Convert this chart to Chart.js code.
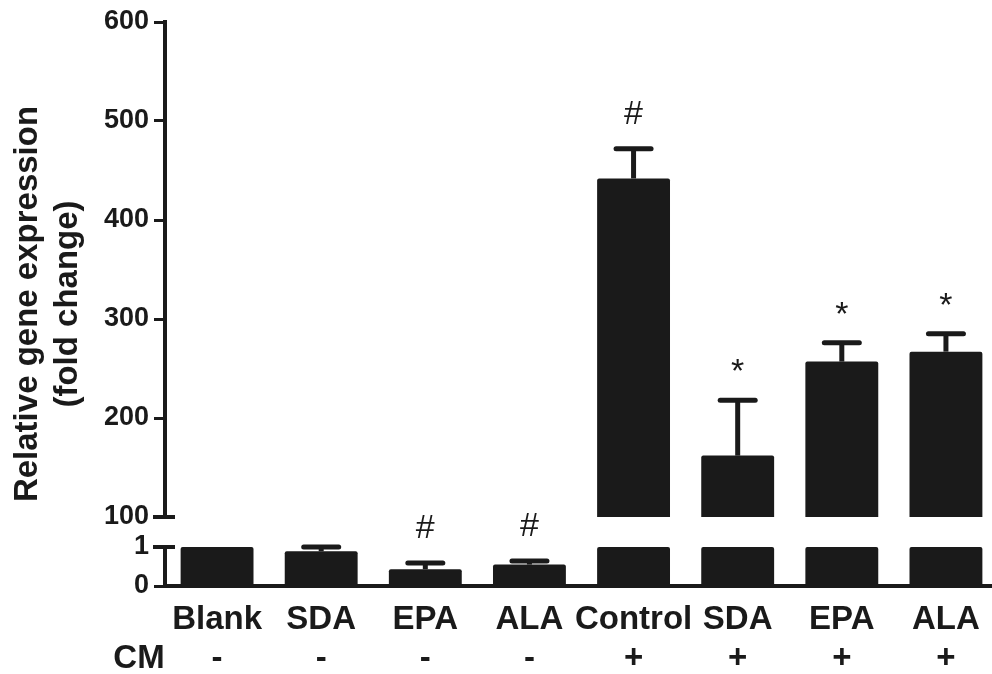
<!DOCTYPE html>
<html>
<head>
<meta charset="utf-8">
<script src="https://cdn.jsdelivr.net/npm/chart.js@4/dist/chart.umd.min.js"></script>
<style>
html, body { margin: 0; padding: 0; background: #fff; }
#wrap { width: 992px; height: 674px; position: relative; }
</style>
</head>
<body>
<div id="wrap"><canvas id="chart"></canvas></div>
<script>
// values (fold change, mean and SEM)
const groups = ['Blank', 'SDA', 'EPA', 'ALA', 'Control', 'SDA', 'EPA', 'ALA'];
const cmMarks = ['-', '-', '-', '-', '+', '+', '+', '+'];
const foldChange = [1, 0.89, 0.43, 0.55, 442, 162, 257, 267];
const sem = [0, 0.11, 0.16, 0.09, 30, 56, 19, 18];
const signif = ['', '', '#', '#', '#', '*', '*', '*'];
const upperTicks = [100, 200, 300, 400, 500, 600];
const lowerTicks = [0, 1];

const ink = '#1a1a1a';
const fontFam = "'Liberation Sans', Arial, Helvetica, sans-serif";
const breakLow = lowerTicks[lowerTicks.length - 1];
const breakHigh = upperTicks[0];

function fixWidth(scale) { scale.width = 165; }

const decor = {
    id: 'decor',
    afterLayout(chart) {
        // the x axis in the figure runs a little past the right edge
        const x = chart.scales.x;
        x.right += 6;
        x.width += 6;
        x.configure();
    },
    afterDatasetsDraw(chart) {
        const ctx = chart.ctx;
        const top = chart.scales.yTop;
        const bot = chart.scales.yBot;
        const meta = chart.getDatasetMeta(1);
        ctx.save();
        ctx.strokeStyle = ink;
        ctx.fillStyle = ink;
        ctx.lineWidth = 5;
        foldChange.forEach(function (v, i) {
            const s = v > breakLow ? top : bot;
            const x = meta.data[i].x;
            const y0 = s.getPixelForValue(v);
            const y1 = s.getPixelForValue(v + sem[i]);
            if (sem[i] > 0) {
                ctx.lineCap = 'butt';
                ctx.beginPath();
                ctx.moveTo(x, y0);
                ctx.lineTo(x, y1);
                ctx.stroke();
                ctx.lineCap = 'round';
                ctx.beginPath();
                ctx.moveTo(x - 17.5, y1);
                ctx.lineTo(x + 17.5, y1);
                ctx.stroke();
            }
            if (signif[i]) {
                ctx.font = '34px ' + fontFam;
                ctx.textAlign = 'center';
                ctx.textBaseline = 'alphabetic';
                const cy = y1 - 37;
                const lift = signif[i] === '*' ? 19 : 12;
                ctx.fillText(signif[i], x, cy + lift);
            }
        });
        ctx.restore();
    },
    afterDraw(chart) {
        const ctx = chart.ctx;
        const top = chart.scales.yTop;
        const bot = chart.scales.yBot;
        const ax = chart.chartArea.left;
        ctx.save();
        // break caps on the y axis
        ctx.strokeStyle = ink;
        ctx.lineWidth = 4;
        [top.getPixelForValue(breakHigh), bot.getPixelForValue(breakLow)].forEach(function (y) {
            ctx.beginPath();
            ctx.moveTo(ax - 12, y);
            ctx.lineTo(ax + 10, y);
            ctx.stroke();
        });
        // axis title
        ctx.fillStyle = ink;
        ctx.font = 'bold 33px ' + fontFam;
        ctx.textAlign = 'center';
        ctx.textBaseline = 'alphabetic';
        const cy = (top.top + bot.bottom) / 2;
        ctx.translate(0, cy);
        ctx.rotate(-Math.PI / 2);
        ctx.fillText('Relative gene expression', 0, 37);
        ctx.fillText('(fold change)', 0, 77);
        ctx.restore();
        // CM row label
        ctx.save();
        ctx.fillStyle = ink;
        ctx.font = 'bold 33px ' + fontFam;
        ctx.textAlign = 'center';
        ctx.textBaseline = 'alphabetic';
        ctx.fillText('CM', 139, chart.chartArea.bottom + 82);
        ctx.restore();
    }
};

const yCommon = {
    type: 'linear',
    position: 'left',
    stack: 'fold',
    afterFit: fixWidth,
    border: { display: true, color: ink, width: 4 },
    grid: { drawOnChartArea: false, drawTicks: true, tickLength: 11, tickWidth: 3, tickColor: ink },
    ticks: { color: ink, padding: 5, autoSkip: false, font: { family: fontFam, size: 27, weight: 'bold' } }
};

new Chart(document.getElementById('chart'), {
    type: 'bar',
    data: {
        labels: groups.map(function (g, i) { return [g, cmMarks[i]]; }),
        datasets: [{
            label: 'upper',
            data: foldChange.map(function (v) { return v > breakHigh ? v : null; }),
            yAxisID: 'yTop',
            backgroundColor: ink,
            borderRadius: 2,
            borderSkipped: 'bottom',
            grouped: false,
            barPercentage: 0.7,
            categoryPercentage: 1
        }, {
            label: 'lower',
            data: foldChange.map(function (v) { return Math.min(v, breakLow); }),
            yAxisID: 'yBot',
            backgroundColor: ink,
            borderRadius: 2,
            borderSkipped: 'bottom',
            grouped: false,
            barPercentage: 0.7,
            categoryPercentage: 1
        }]
    },
    options: {
        responsive: true,
        maintainAspectRatio: false,
        animation: false,
        layout: { padding: { top: 22, right: 0, left: 0, bottom: 0 } },
        plugins: { legend: { display: false }, tooltip: { enabled: false } },
        scales: {
            x: {
                type: 'category',
                afterFit: function (s) { s.height = 88; },
                border: { display: true, color: ink, width: 4 },
                grid: { display: false, drawTicks: false },
                ticks: {
                    color: ink,
                    autoSkip: false,
                    maxRotation: 0,
                    minRotation: 0,
                    padding: 14,
                    font: { family: fontFam, size: 33, weight: 'bold', lineHeight: 1.2 }
                }
            },
            // stacked left axes are laid out last-defined on top
            yBot: Object.assign({}, yCommon, {
                min: lowerTicks[0],
                max: breakLow,
                stackWeight: 39,
                afterBuildTicks: function (s) { s.ticks = lowerTicks.map(function (v) { return { value: v }; }); }
            }),
            yGap: {
                type: 'linear',
                position: 'left',
                stack: 'fold',
                stackWeight: 30,
                min: 0,
                max: 1,
                afterFit: fixWidth,
                border: { display: false },
                grid: { display: false },
                ticks: { display: false }
            },
            yTop: Object.assign({}, yCommon, {
                min: breakHigh,
                max: upperTicks[upperTicks.length - 1],
                stackWeight: 495,
                afterBuildTicks: function (s) { s.ticks = upperTicks.map(function (v) { return { value: v }; }); }
            })
        }
    },
    plugins: [decor]
});
</script>
</body>
</html>
